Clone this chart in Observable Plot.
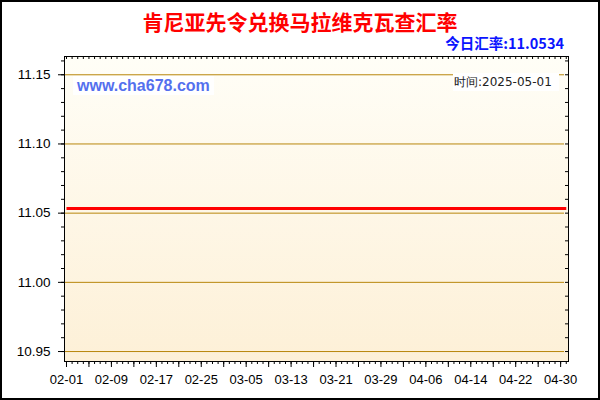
<!DOCTYPE html>
<html><head><meta charset="utf-8">
<script src="https://cdn.jsdelivr.net/npm/d3@7"></script>
<script src="https://cdn.jsdelivr.net/npm/@observablehq/plot@0.6"></script>
<style>
body{margin:0;background:#fff;}
#wrap{position:relative;width:600px;height:400px;overflow:hidden;font-family:"Liberation Sans",Arial,sans-serif;background:#fff;}
#wrap svg{position:absolute;left:0;top:0;}
.ov{position:absolute;white-space:nowrap;line-height:1;}
#border{position:absolute;left:0;top:0;width:600px;height:400px;box-sizing:border-box;border:2px solid #000;pointer-events:none;}
</style></head><body>
<div id="wrap"></div>
<script>
// ---- data ----
const titleText = "肯尼亚先令兑换马拉维克瓦查汇率";
const rateText = "今日汇率:11.0534";
const siteText = "www.cha678.com";
const timeText = "时间:2025-05-01";
const dates = ["2025-02-01","2025-02-09","2025-02-17","2025-02-25","2025-03-05","2025-03-13","2025-03-21","2025-03-29","2025-04-06","2025-04-14","2025-04-22","2025-04-30","2025-05-01"];
const rates = [11.0534,11.0534,11.0534,11.0534,11.0534,11.0534,11.0534,11.0534,11.0534,11.0534,11.0534,11.0534,11.0534];
const yTickValues = [10.95, 11.00, 11.05, 11.10, 11.15];
const xTickLabels = ["2025-02-01","2025-02-09","2025-02-17","2025-02-25","2025-03-05","2025-03-13","2025-03-21","2025-03-29","2025-04-06","2025-04-14","2025-04-22","2025-04-30"];

const data = dates.map((d, i) => ({date: new Date(d + "T00:00:00Z"), rate: rates[i]}));
const labelDates = xTickLabels.map(d => new Date(d + "T00:00:00Z"));

const W = 600, H = 400, mL = 64, mR = 32, mT = 56, mB = 39;
const plotW = W - mL - mR, plotH = H - mT - mB;
const xDomain = [new Date(Date.UTC(2025,0,31,15,30)), new Date(Date.UTC(2025,4,1,9,36))];
const yDomain = [10.9428, 11.1632];

const dayTicks = d3.utcDay.range(new Date(Date.UTC(2025,1,1)), new Date(Date.UTC(2025,4,2)));
const majorDayTicks = dayTicks.filter((d, i) => i % 4 === 0);
const minorY = d3.ticks(yDomain[0], yDomain[1], 22);

const chart = Plot.plot({
  width: W, height: H,
  marginLeft: mL, marginRight: mR, marginTop: mT, marginBottom: mB,
  style: {fontFamily: "'Liberation Sans', Arial, sans-serif", fontSize: "13px", color: "#000", background: "transparent"},
  x: {type: "utc", domain: xDomain, label: null},
  y: {domain: yDomain, label: null},
  marks: [
    Plot.frame({fill: "url(#bgGrad)", stroke: "none"}),
    Plot.ruleY(yTickValues, {stroke: "#b8860b", strokeWidth: 1, insetRight: 4}),
    Plot.lineY(data, {x: "date", y: "rate", stroke: "#ff0000", strokeWidth: 3, strokeLinecap: "butt"}),
    Plot.axisY(minorY, {anchor: "left", tickSize: 3, fill: "none"}),
    Plot.axisY(yTickValues, {anchor: "left", tickSize: 6, tickPadding: 8, tickFormat: d => d.toFixed(2), fontSize: 13.5}),
    Plot.tickY(minorY, {y: d => d, stroke: "#000", insetLeft: plotW - 3}),
    Plot.tickX(dayTicks, {x: d => d, stroke: "#000", insetBottom: plotH - 3}),
    Plot.axisX(dayTicks, {anchor: "bottom", tickSize: 3, fill: "none"}),
    Plot.axisX(majorDayTicks, {anchor: "bottom", tickSize: 6, fill: "none"}),
    Plot.axisX(labelDates, {anchor: "bottom", tickSize: 0, tickPadding: 13, tickFormat: d3.utcFormat("%m-%d"), fontSize: 13}),
    Plot.frame({stroke: "#000", strokeWidth: 1})
  ]
});

d3.select(chart).insert("defs", ":first-child").html(
  '<linearGradient id="bgGrad" x1="0" y1="0" x2="0" y2="1">' +
  '<stop offset="0" stop-color="#fffef7"/><stop offset="1" stop-color="#fdf0d7"/></linearGradient>'
);

const wrap = document.getElementById("wrap");
wrap.appendChild(chart);

function overlay(text, css) {
  const d = document.createElement("div");
  d.className = "ov";
  d.textContent = text;
  Object.assign(d.style, css);
  wrap.appendChild(d);
  return d;
}
overlay(titleText, {left: "0px", width: "600px", textAlign: "center", top: "11px", fontSize: "21px", fontWeight: "bold", color: "#ff0000", fontFamily: "'Noto Sans CJK SC', sans-serif", lineHeight: "21px"});
overlay(rateText, {right: "36px", top: "36px", fontSize: "14.5px", fontWeight: "bold", color: "#0a14ff", fontFamily: "'Noto Sans CJK SC', sans-serif", lineHeight: "14px"});
overlay(siteText, {left: "73px", top: "76px", width: "141px", height: "19px", boxSizing: "border-box", paddingLeft: "4px", paddingTop: "1px", background: "#fff", fontSize: "16px", fontWeight: "bold", color: "#5470ee", fontFamily: "'Liberation Sans', Arial, sans-serif", lineHeight: "18px"});
overlay(timeText, {left: "453px", top: "73px", width: "106px", height: "18px", boxSizing: "border-box", paddingLeft: "1px", background: "#fff", fontSize: "12px", color: "#222", fontFamily: "'DejaVu Sans', sans-serif", lineHeight: "18px"});
const b = document.createElement("div"); b.id = "border"; wrap.appendChild(b);
</script>
</body></html>
